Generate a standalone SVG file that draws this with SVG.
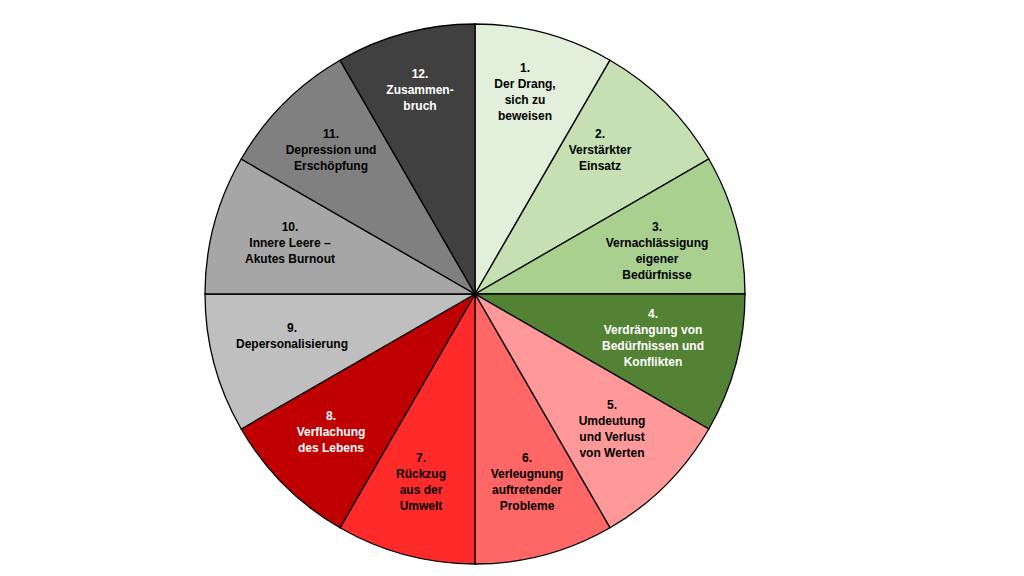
<svg xmlns="http://www.w3.org/2000/svg" width="1024" height="576" viewBox="0 0 1024 576">
<style>
path{stroke:#000;stroke-width:1.3}
text{font-family:"Liberation Sans",Arial,sans-serif;font-weight:bold;font-size:12px;text-anchor:middle}
.w{fill:#fff}
</style>
<rect width="1024" height="576" fill="#fff"/>
<g id="s1"><path d="M475,294 L475,24 A270,270 0 0 1 610,60.2 Z" fill="#e2efda"/><text x="525"><tspan x="525" y="72">1.</tspan><tspan x="525" y="88">Der Drang,</tspan><tspan x="525" y="104">sich zu</tspan><tspan x="525" y="120">beweisen</tspan></text></g>
<g id="s2"><path d="M475,294 L610,60.2 A270,270 0 0 1 708.8,159 Z" fill="#c6e0b4"/><text><tspan x="600" y="138">2.</tspan><tspan x="600" y="154">Verstärkter</tspan><tspan x="600" y="170">Einsatz</tspan></text></g>
<g id="s3"><path d="M475,294 L708.8,159 A270,270 0 0 1 745,294 Z" fill="#a9d08e"/><text><tspan x="657" y="231">3.</tspan><tspan x="657" y="247">Vernachlässigung</tspan><tspan x="657" y="263">eigener</tspan><tspan x="657" y="279">Bedürfnisse</tspan></text></g>
<g id="s4"><path d="M475,294 L745,294 A270,270 0 0 1 708.8,429 Z" fill="#548235"/><text class="w"><tspan x="653" y="318">4.</tspan><tspan x="653" y="334">Verdrängung von</tspan><tspan x="653" y="350">Bedürfnissen und</tspan><tspan x="653" y="366">Konflikten</tspan></text></g>
<g id="s5"><path d="M475,294 L708.8,429 A270,270 0 0 1 610,527.8 Z" fill="#ff9999"/><text><tspan x="612" y="409">5.</tspan><tspan x="612" y="425">Umdeutung</tspan><tspan x="612" y="441">und Verlust</tspan><tspan x="612" y="457">von Werten</tspan></text></g>
<g id="s6"><path d="M475,294 L610,527.8 A270,270 0 0 1 475,564 Z" fill="#ff6666"/><text><tspan x="527" y="462">6.</tspan><tspan x="527" y="478">Verleugnung</tspan><tspan x="527" y="494">auftretender</tspan><tspan x="527" y="510">Probleme</tspan></text></g>
<g id="s7"><path d="M475,294 L475,564 A270,270 0 0 1 340,527.8 Z" fill="#ff2b2b"/><text><tspan x="421" y="462">7.</tspan><tspan x="421" y="478">Rückzug</tspan><tspan x="421" y="494">aus der</tspan><tspan x="421" y="510">Umwelt</tspan></text></g>
<g id="s8"><path d="M475,294 L340,527.8 A270,270 0 0 1 241.2,429 Z" fill="#c00000"/><text class="w"><tspan x="331" y="420">8.</tspan><tspan x="331" y="436">Verflachung</tspan><tspan x="331" y="452">des Lebens</tspan></text></g>
<g id="s9"><path d="M475,294 L241.2,429 A270,270 0 0 1 205,294 Z" fill="#bfbfbf"/><text><tspan x="292" y="332">9.</tspan><tspan x="292" y="348">Depersonalisierung</tspan></text></g>
<g id="s10"><path d="M475,294 L205,294 A270,270 0 0 1 241.2,159 Z" fill="#a6a6a6"/><text><tspan x="290" y="231">10.</tspan><tspan x="290" y="247">Innere Leere –</tspan><tspan x="290" y="263">Akutes Burnout</tspan></text></g>
<g id="s11"><path d="M475,294 L241.2,159 A270,270 0 0 1 340,60.2 Z" fill="#808080"/><text><tspan x="331" y="138">11.</tspan><tspan x="331" y="154">Depression und</tspan><tspan x="331" y="170">Erschöpfung</tspan></text></g>
<g id="s12"><path d="M475,294 L340,60.2 A270,270 0 0 1 475,24 Z" fill="#404040"/><text class="w"><tspan x="420" y="78">12.</tspan><tspan x="420" y="94">Zusammen-</tspan><tspan x="420" y="110">bruch</tspan></text></g>
<g id="connectors"/>
</svg>
